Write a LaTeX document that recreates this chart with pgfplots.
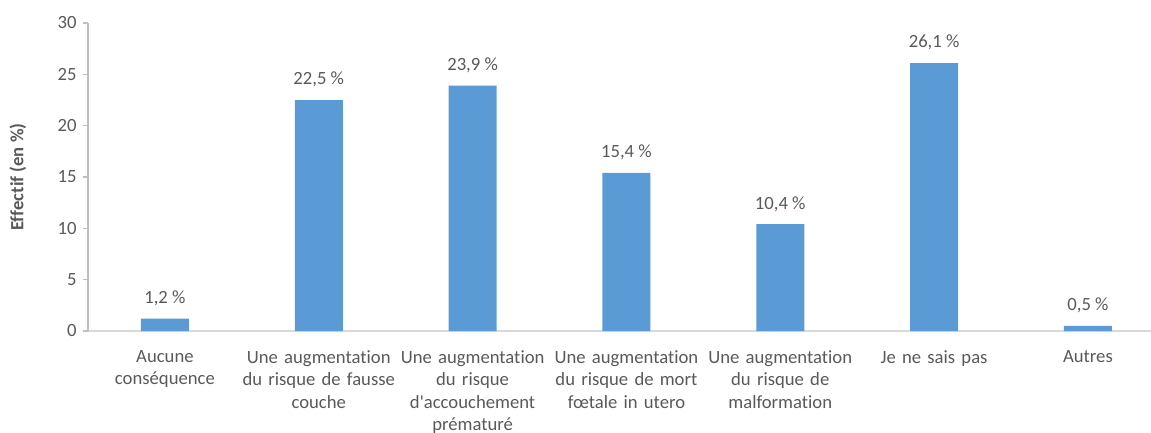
\documentclass[border=0pt]{standalone}
\usepackage{pgfplots}
\pgfplotsset{compat=1.18}
\usepackage{fontspec}
\setmainfont{Carlito}[Ligatures={NoCommon}]
\newfontfamily\plainfont{Carlito}[Ligatures={NoCommon}]
\definecolor{barblue}{HTML}{5B9BD5}
\definecolor{txtgray}{HTML}{595959}
\definecolor{axgray}{HTML}{D9D9D9}
\definecolor{yaxgray}{HTML}{BFBFBF}
\begin{document}
\begin{tikzpicture}
\useasboundingbox (-66pt,-75.75pt) rectangle (797.25pt,248.25pt);
\begin{axis}[
  scale only axis,
  width=797.25pt, height=231pt,
  xmin=-0.5, xmax=6.41,
  ymin=0, ymax=30,
  ytick={0,5,...,30},
  xtick={0,...,6},
  xticklabels={
    {Aucune\\conséquence},
    {Une augmentation\\du risque de fausse\\couche},
    {Une augmentation\\du risque\\d{\plainfont'}accouchement\\prématuré},
    {Une augmentation\\du risque de mort\\fœtale in utero},
    {Une augmentation\\du risque de\\malformation},
    {Je ne sais pas},
    {Autres}},
  x tick label style={align=center, text width=130pt, font=\fontsize{14}{16.9}\selectfont, text=txtgray, anchor=north, yshift=-7pt},
  y tick label style={font=\fontsize{14}{16}\selectfont, text=txtgray, xshift=-1pt},
  /pgf/number format/assume math mode=true,
  axis x line*=bottom,
  axis y line*=left,
  x axis line style={draw=axgray, line width=0.8pt, -},
  y axis line style={draw=yaxgray, line width=0.8pt, -},
  major x tick style={draw=none},
  major y tick style={draw=yaxgray, line width=0.8pt},
  tick align=outside,
  major tick length=4pt,
  ylabel={\textbf{Effectif (en \%)}},
  ylabel style={font=\fontsize{14}{16}\selectfont, text=txtgray, at={(axis description cs:-0.0659,0.5)}, anchor=center},
  ybar, bar width=36pt,
  clip=false,
  nodes near coords={\pgfmathprintnumber[use comma, fixed, fixed zerofill, precision=1]{\pgfplotspointmeta}~\%},
  every node near coord/.append style={font=\fontsize{14}{16}\selectfont, text=txtgray, yshift=6pt},
]
\addplot[fill=barblue, draw=none] coordinates {
  (0,1.2) (1,22.5) (2,23.9) (3,15.4) (4,10.4) (5,26.1) (6,0.5)
};
\end{axis}
\end{tikzpicture}
\end{document}
